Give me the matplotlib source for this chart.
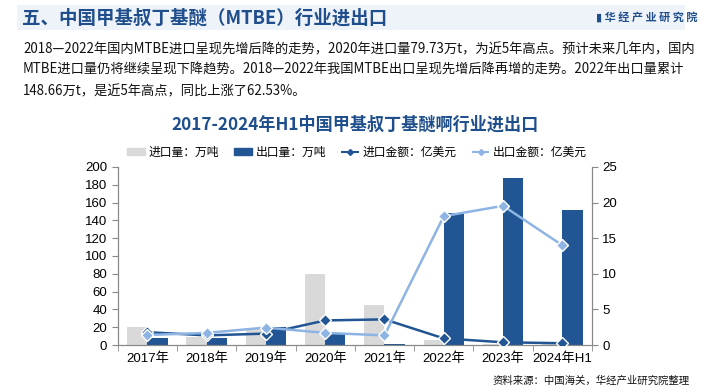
import numpy as np
import matplotlib.pyplot as plt
from matplotlib.patches import Rectangle
from matplotlib.lines import Line2D

plt.rcParams['font.family'] = ['Liberation Sans', 'Noto Sans CJK SC', 'DejaVu Sans']

# 数据
years = ['2017年', '2018年', '2019年', '2020年', '2021年', '2022年', '2023年', '2024年H1']
import_qty = [20.5, 9, 19, 79.73, 45, 5.6, 1.2, 0.6]          # 进口量：万吨
export_qty = [8.2, 8.2, 20, 12.7, 1.0, 148.66, 188, 152]     # 出口量：万吨
import_amt = [1.8, 1.35, 1.6, 3.45, 3.6, 0.93, 0.38, 0.25]   # 进口金额：亿美元
export_amt = [1.4, 1.7, 2.45, 1.7, 1.35, 18.1, 19.55, 14.0]  # 出口金额：亿美元

c_gray = '#d9d9d9'
c_dark = '#215594'
c_light = '#8db4e2'
c_title = '#1f4e8c'
cjk = ['Noto Sans CJK SC', 'DejaVu Sans']

fig = plt.figure(figsize=(7.05, 3.92), dpi=100)

# 顶部标题栏
fig.patches.append(Rectangle((17 / 705, 1 - 30 / 392), 668 / 705, 25 / 392,
                             transform=fig.transFigure, facecolor='#eef2f9',
                             edgecolor='none', zorder=0))
fig.text(22 / 705, 1 - 18 / 392, '五、中国甲基叔丁基醚（MTBE）行业进出口',
         fontsize=13.3, fontweight='bold', color=c_title, va='center', family=cjk)
fig.text(596 / 705, 1 - 17 / 392, '▮ 华 经 产 业 研 究 院', fontsize=8,
         fontweight='bold', color=c_title, va='center', family=cjk)

para = ['2018—2022年国内MTBE进口呈现先增后降的走势，2020年进口量79.73万t，为近5年高点。预计未来几年内，国内',
        'MTBE进口量仍将继续呈现下降趋势。2018—2022年我国MTBE出口呈现先增后降再增的走势。2022年出口量累计',
        '148.66万t，是近5年高点，同比上涨了62.53%。']
for i, line in enumerate(para):
    fig.text(23 / 705, 1 - (49 + 21 * i) / 392, line, fontsize=9.55, va='center',
             color='#111111', family=cjk)

fig.text(355 / 705, 1 - 125 / 392, '2017-2024年H1中国甲基叔丁基醚啊行业进出口', fontsize=12.3,
         fontweight='bold', color=c_title, ha='center', va='center', family=cjk)

fig.text(690 / 705, 1 - 381 / 392, '资料来源：中国海关，华经产业研究院整理', fontsize=7.5,
         ha='right', va='center', color='#111111', family=cjk)

# 图表
ax = fig.add_axes([117.7 / 705, 1 - 345 / 392, (592 - 117.7) / 705, (345 - 167) / 392])
ax2 = ax.twinx()

x = np.arange(len(years))
w = 0.34
ax.bar(x - w / 2, import_qty, w, color=c_gray, zorder=2)
ax.bar(x + w / 2, export_qty, w, color=c_dark, zorder=2)
ax.set_ylim(0, 200)
ax.set_yticks(np.arange(0, 201, 20))
ax.set_xlim(-0.5, len(years) - 0.5)
ax.set_xticks(x)
ax.set_xticklabels(years)
ax.set_xticks(np.arange(-0.5, len(years), 1), minor=True)
ax.tick_params(axis='x', which='major', length=0, labelsize=9.5, pad=5)
ax.tick_params(axis='x', which='minor', length=4, color='#888888')
ax.tick_params(axis='y', labelsize=9.5, length=4, color='#888888')

ax2.plot(x, import_amt, color=c_dark, lw=1.8, marker='D', ms=6,
         mfc=c_dark, mec='white', mew=1, zorder=3)
ax2.plot(x, export_amt, color=c_light, lw=1.8, marker='D', ms=6,
         mfc=c_light, mec='white', mew=1, zorder=3)
ax2.set_ylim(0, 25)
ax2.set_yticks(np.arange(0, 26, 5))
ax2.tick_params(axis='y', labelsize=9.5, length=4, color='#888888')

for a in (ax, ax2):
    a.spines['top'].set_visible(False)
    for s in ['left', 'right', 'bottom']:
        a.spines[s].set_color('#888888')

handles = [Rectangle((0, 0), 1, 1, color=c_gray),
           Rectangle((0, 0), 1, 1, color=c_dark),
           Line2D([], [], color=c_dark, lw=1.5, ls='--', marker='D', ms=3),
           Line2D([], [], color=c_light, lw=1.5, ls='--', marker='D', ms=3)]
labels = ['进口量：万吨', '出口量：万吨', '进口金额：亿美元', '出口金额：亿美元']
fig.legend(handles, labels, loc='center', bbox_to_anchor=(357 / 705, 1 - 152 / 392),
           ncol=4, frameon=False, handlelength=1.5, handleheight=0.6,
           columnspacing=1.3, handletextpad=0.3,
           prop={'family': cjk, 'size': 8.5})

fig.savefig('out.png', dpi=100)
